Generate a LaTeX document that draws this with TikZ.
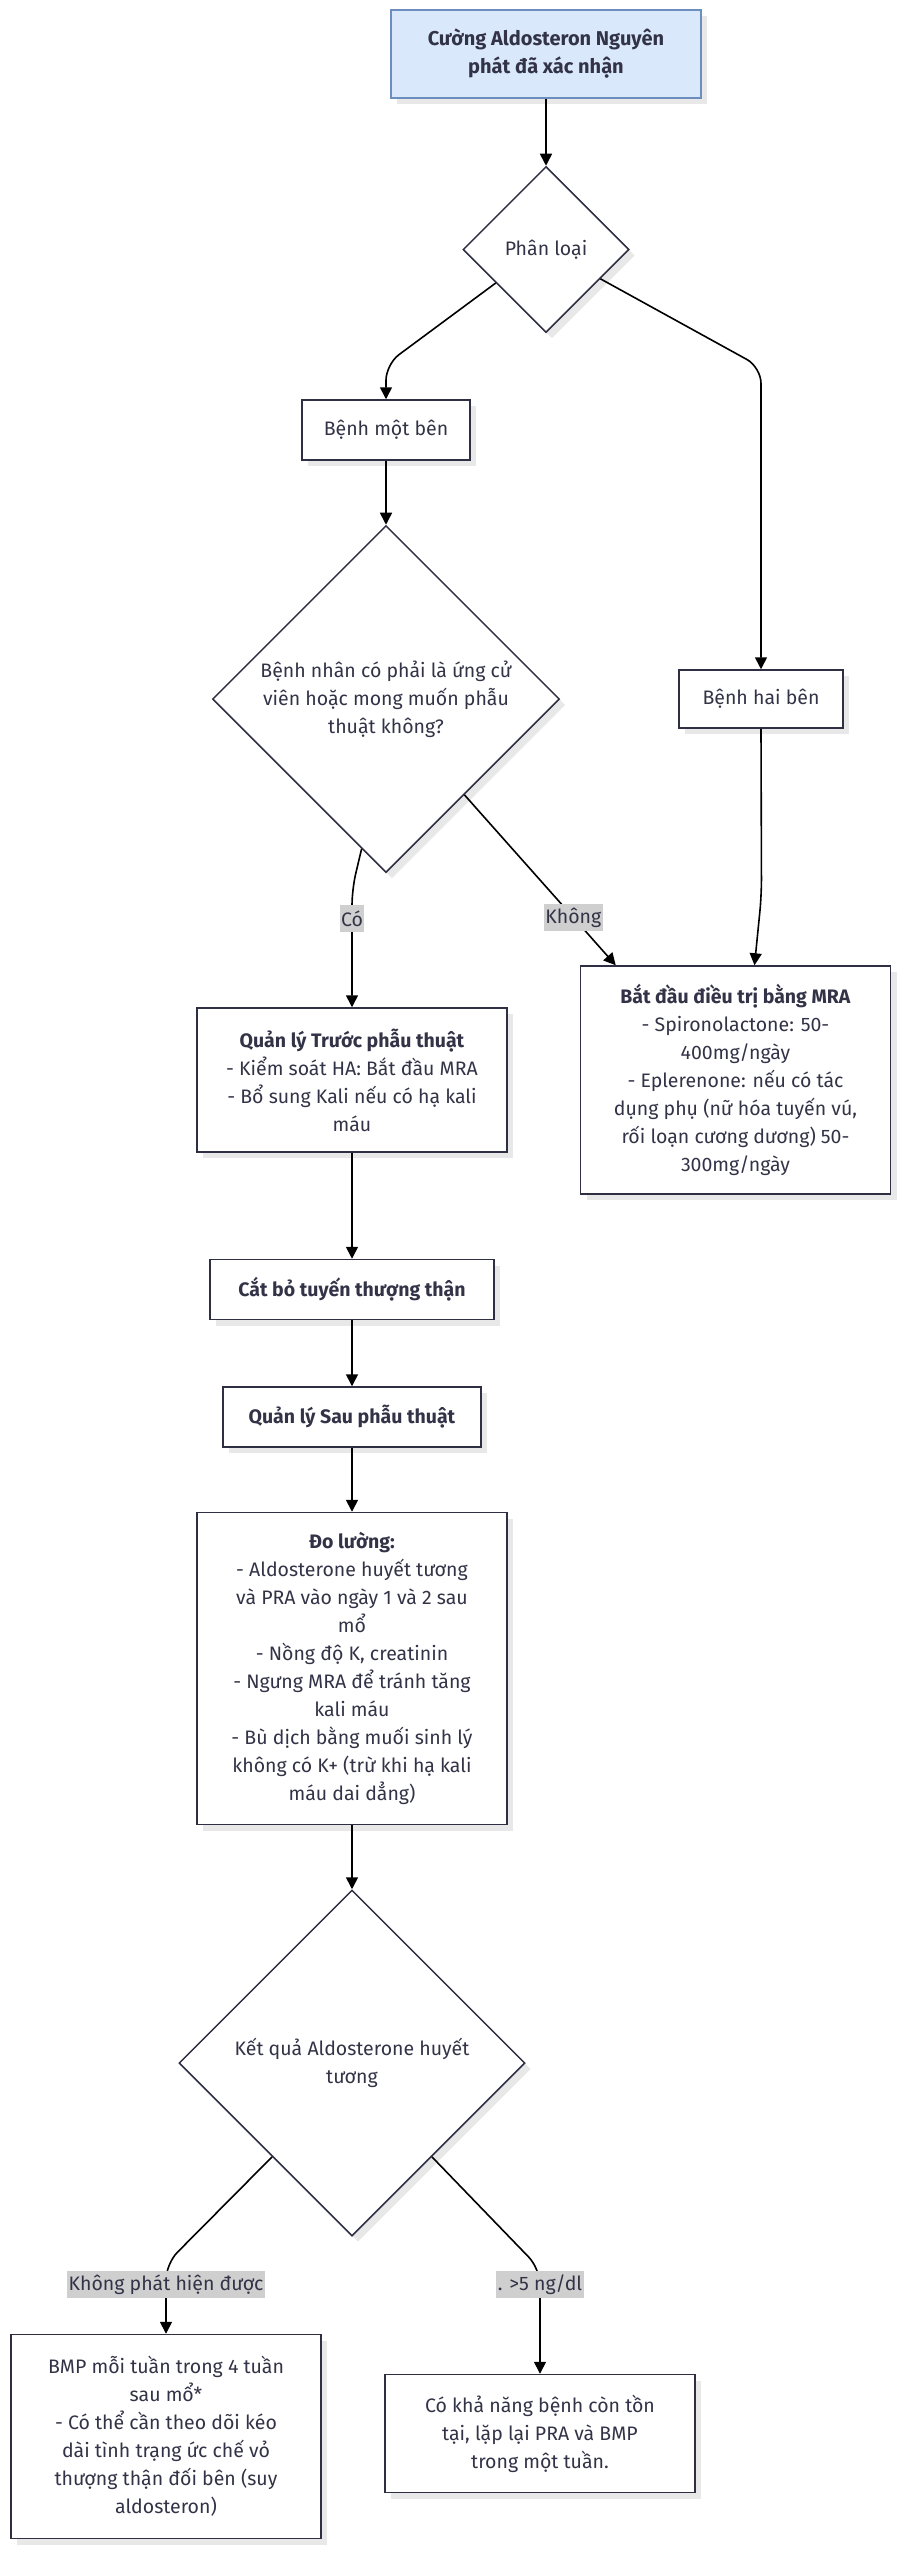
\documentclass[tikz,border=0pt]{standalone}
\usepackage{fontspec}
\setmainfont{Fira Sans}
\usetikzlibrary{shapes.geometric, arrows.meta, positioning, calc, shadows}
\definecolor{nodeline}{RGB}{47,47,68}
\definecolor{nodetext}{RGB}{51,51,72}
\definecolor{startfill}{HTML}{DAE8FC}
\definecolor{startline}{HTML}{6C8EBF}
\definecolor{lblfill}{HTML}{CFCFCF}
\definecolor{shadowgray}{HTML}{E8E8E8}
\tikzstyle{startbox} = [rectangle, minimum width=310pt, minimum height=88pt, align=center, draw=startline, fill=startfill, line width=1.5pt, text=nodetext, font=\fontsize{20}{28}\selectfont\bfseries, drop shadow={shadow xshift=6pt, shadow yshift=-6pt, fill=shadowgray, opacity=1}]
\tikzstyle{stepbox} = [rectangle, minimum height=60pt, align=center, draw=nodeline, fill=white, line width=1.5pt, text=nodetext, font=\fontsize{19.5}{28}\selectfont, drop shadow={shadow xshift=6pt, shadow yshift=-6pt, fill=shadowgray, opacity=1}]
\tikzstyle{decision} = [diamond, aspect=1, inner sep=0pt, align=center, draw=nodeline, fill=white, line width=1.5pt, text=nodetext, font=\fontsize{19.5}{28}\selectfont, drop shadow={shadow xshift=6pt, shadow yshift=-6pt, fill=shadowgray, opacity=1}]
\tikzstyle{lbl} = [sharp corners, fill=lblfill, text=nodetext, inner xsep=1.5pt, inner ysep=0pt, minimum height=27pt, font=\fontsize{19.5}{28}\selectfont]
\tikzstyle{arrow} = [line width=1.6pt, ->, >={Triangle[length=12pt, width=12pt]}, rounded corners=16pt]

\begin{document}
\begin{tikzpicture}[x=1pt, y=-1pt]
\useasboundingbox (0,0) rectangle (905,2560);

\node (confirmed) [startbox] at (546,54) {Cường Aldosteron Nguyên\\phát đã xác nhận};

\node (classify) [decision, minimum width=166pt, minimum height=166pt, below=67pt of confirmed] {Phân loại};

\node (unilateral) [stepbox, minimum width=168pt, below=66pt of classify, xshift=-160pt] {Bệnh một bên};

\node (candidate) [decision, minimum width=347pt, minimum height=347pt, below=64pt of unilateral] {Bệnh nhân có phải là ứng cử\\viên hoặc mong muốn phẫu\\thuật không?};
\node (bilateral) [stepbox, minimum width=164pt, minimum height=58pt, right=118pt of candidate] {Bệnh hai bên};

\node (preop) [stepbox, minimum width=310pt, minimum height=144pt, below=134pt of candidate, xshift=-34pt] {\textbf{Quản lý Trước phẫu thuật}\\- Kiểm soát HA: Bắt đầu MRA\\- Bổ sung Kali nếu có hạ kali\\máu};
\node (mrastart) [stepbox, minimum width=310pt, minimum height=228pt, right=72pt of preop] {\textbf{Bắt đầu điều trị bằng MRA}\\- Spironolactone: 50-\\400mg/ngày\\- Eplerenone: nếu có tác\\dụng phụ (nữ hóa tuyến vú,\\rối loạn cương dương) 50-\\300mg/ngày};

\node (adrenalectomy) [stepbox, minimum width=284pt, below=106pt of preop] {\textbf{Cắt bỏ tuyến thượng thận}};
\node (postop) [stepbox, minimum width=258pt, below=66pt of adrenalectomy] {\textbf{Quản lý Sau phẫu thuật}};
\node (measure) [stepbox, minimum width=310pt, minimum height=312pt, below=64pt of postop] {\textbf{Đo lường:}\\- Aldosterone huyết tương\\và PRA vào ngày 1 và 2 sau\\mổ\\- Nồng độ K, creatinin\\- Ngưng MRA để tránh tăng\\kali máu\\- Bù dịch bằng muối sinh lý\\không có K+ (trừ khi hạ kali\\máu dai dẳng)};

\node (result) [decision, minimum width=346pt, minimum height=346pt, below=64pt of measure] {Kết quả Aldosterone huyết\\tương};

\node (undetect) [stepbox, minimum width=310pt, minimum height=204pt, below=97pt of result, xshift=-186pt] {BMP mỗi tuần trong 4 tuần\\sau mổ*\\- Có thể cần theo dõi kéo\\dài tình trạng ức chế vỏ\\thượng thận đối bên (suy\\aldosteron)};
\node (persist) [stepbox, minimum width=310pt, minimum height=118pt, below=137pt of result, xshift=188pt] {Có khả năng bệnh còn tồn\\tại, lặp lại PRA và BMP\\trong một tuần.};

\draw [arrow] (confirmed) -- (classify);
\draw [arrow] ($(classify.west)!0.4!(classify.south)$) -- ([yshift=35pt]unilateral.north) -- (unilateral.north);
\draw [arrow] ($(classify.east)!0.35!(classify.south)$) -- ([yshift=302pt]bilateral.north) -- (bilateral.north);
\draw [arrow] (unilateral) -- (candidate);
\draw [arrow] ($(candidate.south)!0.14!(candidate.west)$) -- ([yshift=118pt]preop.north) -- node[lbl, pos=0.25] {Có} (preop.north);
\draw [arrow] ($(candidate.south)!0.45!(candidate.east)$) -- node[lbl, pos=0.72] {Không} ([xshift=36pt]mrastart.north west);
\draw [arrow] (bilateral.south) -- ([xshift=26pt, yshift=70pt]mrastart.north) -- ([xshift=19pt]mrastart.north);
\draw [arrow] (preop) -- (adrenalectomy);
\draw [arrow] (adrenalectomy) -- (postop);
\draw [arrow] (postop) -- (measure);
\draw [arrow] (measure) -- (result);
\draw [arrow] ($(result.south)!0.46!(result.west)$) -- ([yshift=70pt]undetect.north) -- node[lbl, pos=0.3] {Không phát hiện được} (undetect.north);
\draw [arrow] ($(result.south)!0.46!(result.east)$) -- ([yshift=105pt]persist.north) -- node[lbl, pos=0.15] {. >5 ng/dl} (persist.north);
\end{tikzpicture}
\end{document}
